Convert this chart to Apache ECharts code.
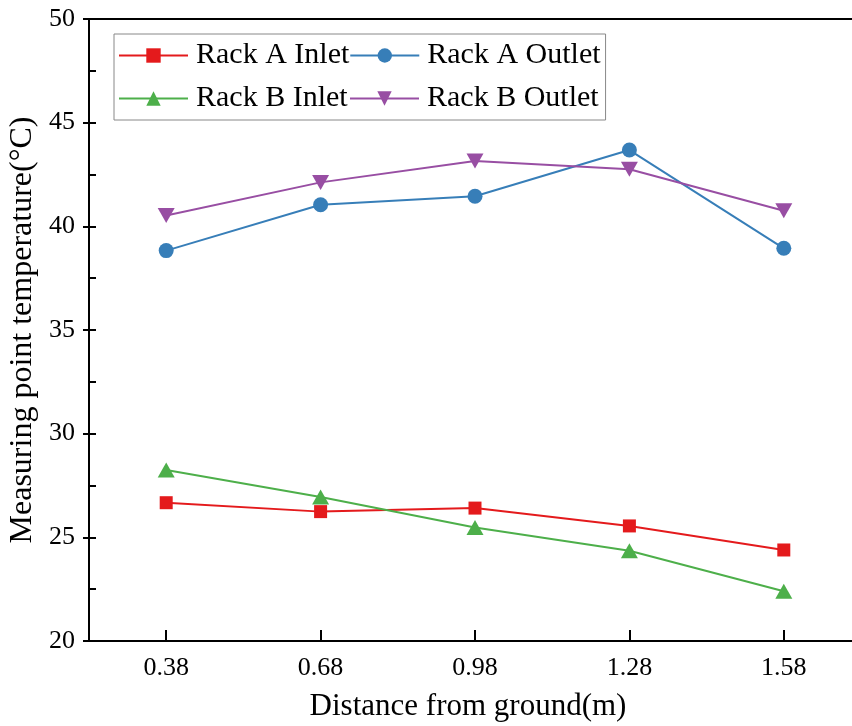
<!DOCTYPE html>
<html>
<head>
<meta charset="utf-8">
<script src="https://cdn.jsdelivr.net/npm/echarts@6/dist/echarts.min.js"></script>
<style>
  html, body { margin: 0; padding: 0; background: #fff; overflow: hidden; }
  /* the plot frame runs on past the right edge of the window */
  #chart { width: 900px; height: 726px; }
</style>
</head>
<body>
<div id="chart"></div>
<script>
// Measuring heights (m) and temperatures (°C)
var distances = [0.38, 0.68, 0.98, 1.28, 1.58];
var xTicks = [0.38, 0.68, 0.98, 1.28, 1.58];
var rackAInlet = [26.67, 26.24, 26.41, 25.55, 24.39];
var rackAOutlet = [38.83, 41.04, 41.45, 43.68, 38.94];
var rackBInlet = [28.25, 26.95, 25.47, 24.35, 22.40];
var rackBOutlet = [40.52, 42.12, 43.15, 42.75, 40.75];
var seriesNames = ['Rack A Inlet', 'Rack A Outlet', 'Rack B Inlet', 'Rack B Outlet'];

var FONT = 'Liberation Serif';

function pairs(ys) {
  return distances.map(function (x, i) { return [x, ys[i]]; });
}

var chart = echarts.init(document.getElementById('chart'), null, { renderer: 'canvas' });

function lineSeries(name, ys, color, symbol, size) {
  return {
    name: name,
    type: 'line',
    xAxisIndex: 0,
    yAxisIndex: 0,
    data: pairs(ys),
    symbol: symbol,
    symbolSize: size,
    showAllSymbol: true,
    lineStyle: { color: color, width: 2 },
    itemStyle: { color: color },
    emphasis: { disabled: true },
    z: 3
  };
}

var gridBox = { left: 89, top: 19, width: 772, height: 622, outerBoundsMode: 'none', containLabel: false, show: false };

var option = {
  animation: false,
  backgroundColor: '#fff',
  textStyle: { fontFamily: FONT, color: '#000' },
  grid: [gridBox, Object.assign({}, gridBox)],
  legend: {
    left: 114, top: 34,
    width: 488,
    orient: 'horizontal',
    padding: [0, 5, 0, 4],
    itemGap: 0,
    itemWidth: 69,
    itemHeight: 18,
    borderColor: '#888',
    borderWidth: 1,
    textStyle: { fontFamily: FONT, fontSize: 30, color: '#000', lineHeight: 43, padding: [0, 0, 0, 3] },
    data: [
      { name: seriesNames[0], textStyle: { width: 153 } },
      { name: seriesNames[1], textStyle: { width: 172 } },
      { name: seriesNames[2], textStyle: { width: 153 } },
      { name: seriesNames[3], textStyle: { width: 172 } }
    ]
  },
  xAxis: [
    {
      gridIndex: 0,
      type: 'value',
      position: 'bottom',
      min: 0.23, max: 1.73,
      name: 'Distance from ground(m)',
      nameLocation: 'middle',
      nameGap: 50,
      nameTextStyle: { fontFamily: FONT, fontSize: 31, color: '#000', padding: [0, 14, 0, 0] },
      axisLine: { onZero: false, lineStyle: { color: '#000', width: 2 } },
      axisTick: { inside: true, length: 11, lineStyle: { color: '#000', width: 2 }, customValues: xTicks },
      axisLabel: {
        fontFamily: FONT, fontSize: 26, color: '#000', margin: 14,
        customValues: xTicks,
        formatter: function (v) { return v.toFixed(2); }
      },
      splitLine: { show: false }
    },
    {
      // frame line along the top of the plot
      gridIndex: 1,
      type: 'value',
      position: 'top',
      min: 0.23, max: 1.73,
      axisLine: { onZero: false, lineStyle: { color: '#000', width: 2 } },
      axisTick: { show: false },
      axisLabel: { show: false },
      splitLine: { show: false }
    }
  ],
  yAxis: [
    {
      gridIndex: 0,
      type: 'value',
      min: 20, max: 50, interval: 5,
      name: 'Measuring point temperature(°C)',
      nameLocation: 'middle',
      nameGap: 45,
      nameTextStyle: { fontFamily: FONT, fontSize: 32, color: '#000' },
      axisLine: { onZero: false, lineStyle: { color: '#000', width: 2 } },
      axisTick: { inside: true, length: 7, lineStyle: { color: '#000', width: 2 } },
      minorTick: { show: true, splitNumber: 2, length: 7, lineStyle: { color: '#000', width: 2 } },
      axisLabel: { fontFamily: FONT, fontSize: 26, color: '#000', margin: 14 },
      splitLine: { show: false },
      minorSplitLine: { show: false }
    },
    {
      // outward half of the major ticks on the left axis
      gridIndex: 1,
      type: 'value',
      position: 'left',
      min: 20, max: 50, interval: 5,
      axisLine: { show: false },
      axisTick: { inside: false, length: 6, lineStyle: { color: '#000', width: 2 } },
      axisLabel: { show: false },
      splitLine: { show: false }
    }
  ],
  series: [
    lineSeries(seriesNames[0], rackAInlet, '#e41a1c', 'rect', 13),
    lineSeries(seriesNames[1], rackAOutlet, '#377eb8', 'circle', 15),
    lineSeries(seriesNames[2], rackBInlet, '#4daf4a', 'triangle', [17, 15]),
    lineSeries(seriesNames[3], rackBOutlet, '#984ea3', 'path://M0,0 L10,0 L5,9 Z', [17, 15])
  ]
};

chart.setOption(option);
</script>
</body>
</html>
